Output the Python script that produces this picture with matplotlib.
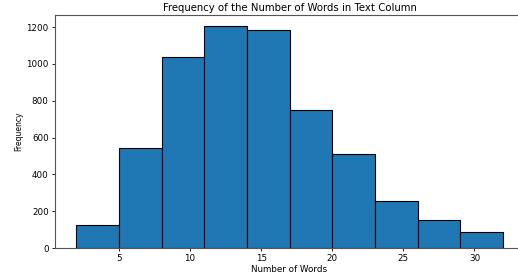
import numpy as np
import matplotlib.pyplot as plt

# bin edges and counts
bin_edges = [2, 5, 8, 11, 14, 17, 20, 23, 26, 29, 32]
counts = [125, 546, 1039, 1204, 1184, 752, 510, 256, 153, 86]

centers = [(a + b) / 2 for a, b in zip(bin_edges[:-1], bin_edges[1:])]

fig = plt.figure(figsize=(5.18, 2.75), dpi=100)
ax = fig.add_axes([0.106, 0.098, 0.906, 0.847])
ax.hist(centers, bins=bin_edges, weights=counts, color='#1f77b4', edgecolor='black', linewidth=0.8)
ax.set_xlim(0.5, 33.5)
ax.set_ylim(0, 1265)
ax.set_title('Frequency of the Number of Words in Text Column', fontsize=7.3, pad=3)
ax.set_xlabel('Number of Words', fontsize=6.3, labelpad=1)
ax.set_ylabel('Frequency', fontsize=5.5, labelpad=2)
ax.tick_params(labelsize=6.3, length=2.5, width=0.6, pad=2)
for s in ax.spines.values():
    s.set_color('#555555')
    s.set_linewidth(0.8)
fig.savefig('out.png', dpi=100)
